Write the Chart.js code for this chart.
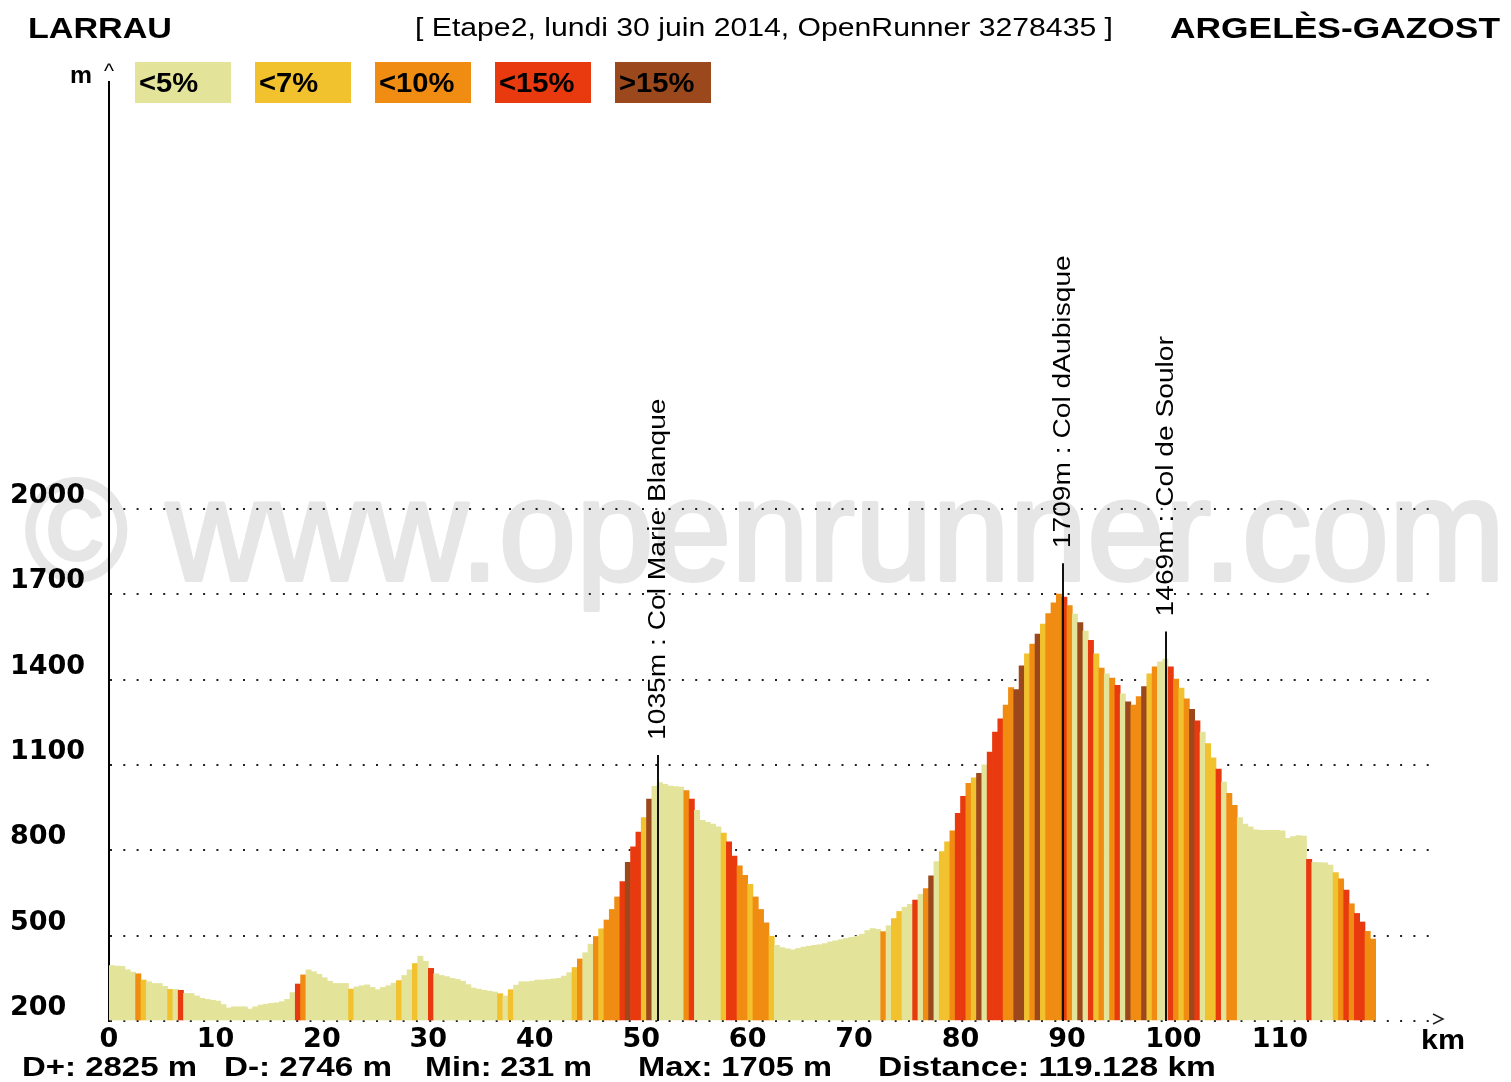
<!DOCTYPE html>
<html>
<head>
<meta charset="utf-8">
<script src="https://cdn.jsdelivr.net/npm/chart.js@4.4.1/dist/chart.umd.min.js"></script>
<style>
  html, body { margin: 0; padding: 0; background: #fff; }
  #wrap { position: relative; width: 1511px; height: 1082px; overflow: hidden;
          font-family: "Liberation Sans", Arial, sans-serif; color: #000; }
  #chart { position: absolute; left: 0; top: 0; }
  .t { position: absolute; white-space: nowrap; line-height: 1; transform-origin: 0 50%; }
  .b { font-weight: bold; }
  .leg { position: absolute; top: 62px; width: 96px; height: 41px; }
  .leg span { position: absolute; left: 4px; top: 8px; font-size: 27px; line-height: 1; font-weight: bold;
              white-space: nowrap; transform: scaleX(1.08); transform-origin: 0 50%; }
</style>
</head>
<body>
<div id="wrap">
  <canvas id="chart" width="1511" height="1082"></canvas>
</div>
<script>
// profile sampled every 0.5 km (value = altitude in m at the middle of each step)
const STEP_KM = 0.5;
const ELEVATION = [
  395, 393, 392, 380, 372, 366, 344, 338, 332, 332,
  322, 311, 311, 308, 297, 297, 288, 280, 276, 273,
  270, 258, 246, 250, 250, 250, 242, 250, 256, 259,
  262, 264, 268, 276, 300, 330, 362, 380, 373, 364,
  352, 340, 332, 332, 332, 312, 320, 324, 327, 318,
  310, 318, 324, 333, 342, 360, 380, 402, 428, 410,
  385, 366, 360, 356, 350, 346, 340, 328, 316, 312,
  308, 305, 302, 296, 288, 310, 326, 338, 338, 340,
  344, 344, 346, 348, 350, 358, 370, 388, 418, 440,
  470, 497, 524, 555, 592, 636, 690, 758, 812, 864,
  915, 980, 1025, 1038, 1032, 1026, 1024, 1022, 1010, 980,
  940, 905, 898, 892, 882, 860, 830, 780, 745, 712,
  680, 636, 592, 545, 498, 466, 458, 454, 450, 455,
  460, 463, 466, 468, 472, 478, 482, 486, 490, 494,
  498, 505, 518, 525, 522, 514, 535, 560, 585, 600,
  610, 625, 645, 665, 710, 760, 795, 830, 868, 930,
  990, 1035, 1055, 1070, 1100, 1145, 1215, 1262, 1310, 1372,
  1365, 1448, 1490, 1525, 1560, 1595, 1632, 1670, 1700, 1690,
  1660, 1630, 1600, 1570, 1538, 1490, 1440, 1420, 1405, 1380,
  1350, 1322, 1310, 1340, 1375, 1420, 1445, 1462, 1472, 1445,
  1402, 1370, 1332, 1295, 1255, 1215, 1175, 1125, 1085, 1040,
  1000, 958, 915, 892, 882, 872, 870, 870, 870, 870,
  868, 842, 848, 852, 850, 768, 758, 757, 756, 748,
  722, 700, 660, 612, 578, 548, 515, 488
];
// gradient class of each step: 0 <5%, 1 <7%, 2 <10%, 3 <15%, 4 >15%
const GRADE = [
  0,0,0,0,0,2,1,0,0,0,  0,1,0,3,0,0,0,0,0,0,  0,0,0,0,0,0,0,0,0,0,
  0,0,0,0,0,3,2,0,0,0,  0,0,0,0,0,1,0,0,0,0,  0,0,0,0,1,0,0,1,0,0,
  3,0,0,0,0,0,0,0,0,0,  0,0,0,1,0,1,0,0,0,0,  0,0,0,0,0,0,0,1,2,0,
  0,2,1,2,2,2,3,4,3,3,  1,4,0,0,0,0,0,0,2,3,  0,0,0,0,0,1,3,3,2,2,
  1,2,2,2,1,0,0,0,0,0,  0,0,0,0,0,0,0,0,0,0,  0,0,0,0,0,2,0,1,1,0,
  0,3,0,2,4,0,1,1,2,3,  3,2,1,4,0,3,3,3,2,2,  4,4,1,2,4,1,2,2,2,3,
  2,0,4,0,3,1,2,0,2,3,  0,4,2,2,4,1,2,0,0,3,  2,1,2,4,3,0,1,1,3,0,
  2,2,0,0,0,0,0,0,0,0,  0,0,0,0,0,3,0,0,0,0,  1,2,3,2,3,3,2,2
];
const GRADE_LABELS = ['<5%', '<7%', '<10%', '<15%', '>15%'];
const GRADE_COLORS = ['#e3e49a', '#f2c12e', '#f08c12', '#e9390f', '#9b481c'];

const Y_TICKS = [200, 500, 800, 1100, 1400, 1700, 2000];
const X_TICKS = [0, 10, 20, 30, 40, 50, 60, 70, 80, 90, 100, 110];

const PASS_KM = [51.6, 89.6, 99.3];
const PASS_ALT = [1035, 1709, 1469];
const PASS_NAME = ['Col Marie Blanque', 'Col dAubisque', 'Col de Soulor'];

const START = 'LARRAU';
const FINISH = 'ARGELÈS-GAZOST';
const SUBTITLE = '[ Etape2, lundi 30 juin 2014, OpenRunner 3278435 ]';
const STATS = ['D+: 2825 m', 'D-: 2746 m', 'Min: 231 m', 'Max: 1705 m', 'Distance: 119.128 km'];
const WATERMARK = '© www.openrunner.com';

// ---- html texts ----
const wrap = document.getElementById('wrap');

function addText(txt, left, cy, size, bold, width) {
  const el = document.createElement('div');
  el.className = 't' + (bold ? ' b' : '');
  el.textContent = txt;
  el.style.left = left + 'px';
  el.style.top = (cy - size / 2) + 'px';
  el.style.fontSize = size + 'px';
  wrap.appendChild(el);
  if (width) {
    const w = el.getBoundingClientRect().width;
    el.style.transform = 'scaleX(' + (width / w) + ')';
  }
  return el;
}

addText(START, 28, 28, 29, true, 144);
addText(SUBTITLE, 415, 27, 25, false, 698);
addText(FINISH, 1170, 28, 29, true, 330);

GRADE_LABELS.forEach((lab, i) => {
  const box = document.createElement('div');
  box.className = 'leg';
  box.style.left = (135 + i * 120) + 'px';
  box.style.background = GRADE_COLORS[i];
  const s = document.createElement('span');
  s.textContent = lab;
  box.appendChild(s);
  wrap.appendChild(box);
});

addText('m', 70, 75, 24, true, 22);
addText('^', 104, 71, 20, false, 10);
addText('km', 1421, 1040, 27, true, 44);

const statLeft = [22, 224, 425, 638, 878];
const statWidth = [175, 168, 167, 194, 338];
STATS.forEach((s, i) => addText(s, statLeft[i], 1067, 27, true, statWidth[i]));

// ---- chart ----
const decor = {
  id: 'decor',
  beforeDraw(chart) {
    const ctx = chart.ctx;
    ctx.save();
    ctx.font = '145px "Liberation Sans"';
    const w = ctx.measureText(WATERMARK).width;
    ctx.translate(25, 580);
    ctx.scale(1480 / w, 1);
    ctx.fillStyle = '#e6e6e6';
    ctx.strokeStyle = '#e6e6e6';
    ctx.lineWidth = 4;
    ctx.lineJoin = 'round';
    ctx.strokeText(WATERMARK, 0, 0);
    ctx.fillText(WATERMARK, 0, 0);
    ctx.restore();
  },
  afterDatasetsDraw(chart) {
    const { ctx, chartArea, scales: { x, y } } = chart;
    ctx.save();
    PASS_KM.forEach((km, i) => {
      const px = Math.round(x.getPixelForValue(km));
      const top = y.getPixelForValue(PASS_ALT[i] + 100);
      ctx.strokeStyle = '#111';
      ctx.lineWidth = 2;
      ctx.beginPath();
      ctx.moveTo(px, chartArea.bottom);
      ctx.lineTo(px, top);
      ctx.stroke();
      ctx.save();
      ctx.translate(px, top - 15);
      ctx.rotate(-Math.PI / 2);
      ctx.scale(1.225, 1);
      ctx.font = '23px "Liberation Sans"';
      ctx.fillStyle = '#000';
      ctx.textAlign = 'left';
      ctx.textBaseline = 'middle';
      ctx.fillText(PASS_ALT[i] + 'm : ' + PASS_NAME[i], 0, 1);
      ctx.restore();
    });
    // arrow head at the end of the km axis
    const ax = chartArea.right + 2, ay = chartArea.bottom;
    ctx.strokeStyle = '#222';
    ctx.lineWidth = 1.5;
    ctx.beginPath();
    ctx.moveTo(ax, ay - 7);
    ctx.lineTo(ax + 10, ay - 2);
    ctx.lineTo(ax, ay + 3);
    ctx.stroke();
    ctx.restore();
  }
};

const tickFont = { family: '"DejaVu Sans"', weight: 'bold', size: 27 };
const points = ELEVATION.map((alt, i) => ({ x: i * STEP_KM + STEP_KM / 2, y: alt }));

new Chart(document.getElementById('chart'), {
  type: 'bar',
  data: {
    datasets: [{
      data: points,
      backgroundColor: GRADE.map(g => GRADE_COLORS[g]),
      borderWidth: 0,
      base: 200,
      barPercentage: 1,
      categoryPercentage: 1,
      grouped: false
    }]
  },
  options: {
    responsive: false,
    animation: false,
    events: [],
    layout: { padding: { left: 10, right: 80, top: 82, bottom: 0 } },
    plugins: { legend: { display: false }, tooltip: { enabled: false } },
    scales: {
      x: {
        type: 'linear', min: 0, max: 124.2, offset: false,
        grid: { display: false, drawTicks: false },
        border: { display: false },
        afterBuildTicks: s => { s.ticks = X_TICKS.map(v => ({ value: v })); },
        afterFit: s => { s.height = 61; },
        ticks: { padding: 3, color: '#000', font: tickFont, maxRotation: 0, autoSkip: false,
                 callback: v => String(v) }
      },
      y: {
        type: 'linear', min: 200, max: 3500,
        grid: { color: '#222', lineWidth: 2, drawTicks: false },
        border: { display: true, color: '#000', width: 2, dash: [2, 11.3] },
        afterBuildTicks: s => { s.ticks = Y_TICKS.map(v => ({ value: v })); },
        afterFit: s => { s.width = 99; },
        ticks: { crossAlign: 'far', labelOffset: -13, padding: 0, color: '#000', font: tickFont,
                 callback: v => String(v) }
      }
    }
  },
  plugins: [decor]
});
</script>
</body>
</html>
